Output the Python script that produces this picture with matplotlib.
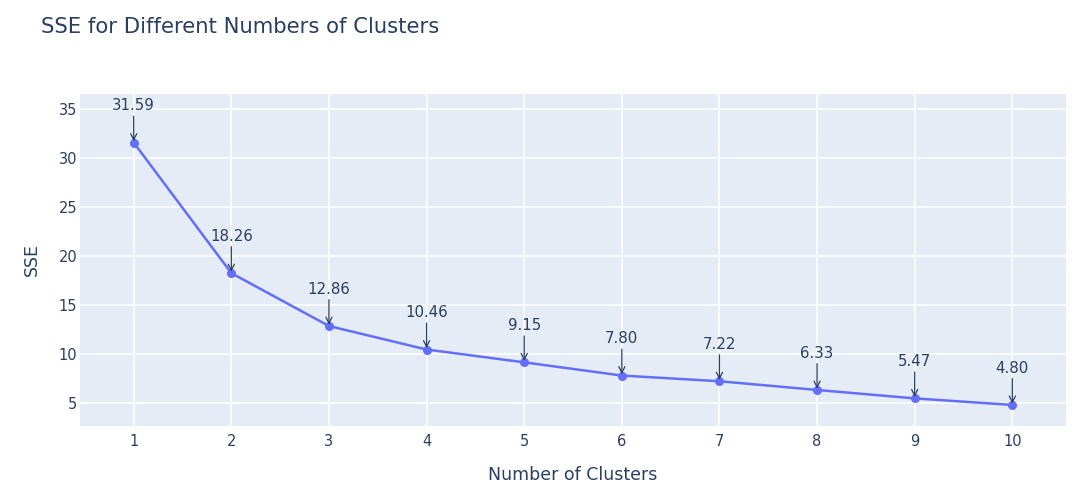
import numpy as np
import matplotlib
matplotlib.use("Agg")
import matplotlib.pyplot as plt

# data
clusters = [1, 2, 3, 4, 5, 6, 7, 8, 9, 10]
sse = [31.59, 18.26, 12.86, 10.46, 9.15, 7.80, 7.22, 6.33, 5.47, 4.80]
y_ticks = [5, 10, 15, 20, 25, 30, 35]

TEXT = "#2a3f5f"
BG = "#E5ECF6"
LINE = "#636EFA"

plt.rcParams["font.family"] = ["DejaVu Sans"]

fig = plt.figure(figsize=(10.86, 4.96), dpi=100)
ax = fig.add_axes([80 / 1086, 1 - 426 / 496, 986 / 1086, 332 / 496])
ax.set_facecolor(BG)
for s in ax.spines.values():
    s.set_visible(False)

ax.grid(True, color="white", lw=1.1)
ax.set_axisbelow(True)

ax.plot(clusters, sse, "-o", color=LINE, lw=1.8, ms=5.5, zorder=3)

# annotations: arrow from text down to each point
for x, y in zip(clusters, sse):
    ax.annotate("", xy=(x, y), xytext=(0, 19), textcoords="offset points",
                arrowprops=dict(arrowstyle="->", color=TEXT, lw=0.9,
                                shrinkA=0, shrinkB=1, mutation_scale=11),
                zorder=4)
    ax.annotate(f"{y:.2f}", xy=(x, y), xytext=(0, 26.5), textcoords="offset points",
                ha="center", va="center", fontsize=10.8, color=TEXT, zorder=4)

ax.set_xlim(0.45, 10.55)
ax.set_ylim(2.65, 36.55)
ax.set_xticks(clusters)
ax.set_yticks(y_ticks)
ax.tick_params(length=0, labelsize=10.5, labelcolor=TEXT)
ax.tick_params(axis="x", pad=6)
ax.tick_params(axis="y", pad=2)

ax.set_xlabel("Number of Clusters", fontsize=12.5, color=TEXT, labelpad=12)
ax.set_ylabel("SSE", fontsize=12.5, color=TEXT, labelpad=13)

fig.text(41 / 1086, 1 - 33 / 496, "SSE for Different Numbers of Clusters",
         fontsize=15.2, color=TEXT, va="baseline", ha="left")

fig.savefig("out.png", dpi=100)
